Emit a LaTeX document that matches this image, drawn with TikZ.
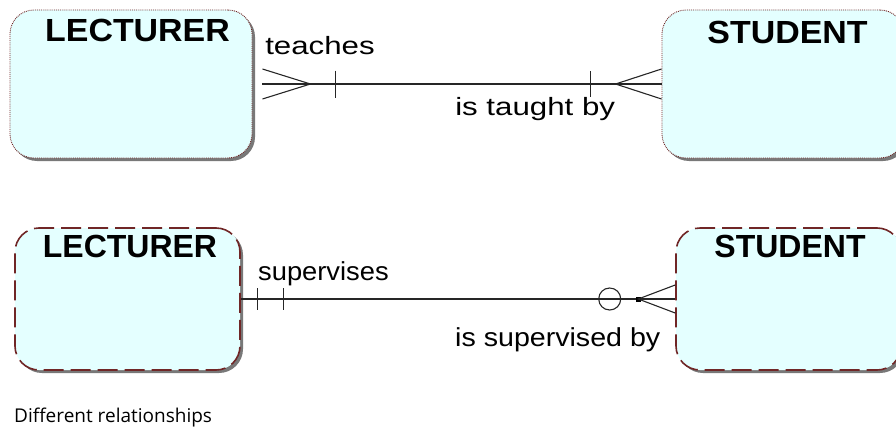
\documentclass[tikz,border=0pt]{standalone}
\usepackage{fontspec}
\setmainfont{Liberation Sans}
\newfontfamily\unterschriftfont{Open Sans}
\usetikzlibrary{shadows}

\definecolor{hellcyan}{RGB}{228,255,255}
\definecolor{randrot}{RGB}{112,38,38}
\definecolor{schatten}{RGB}{120,120,120}

\tikzset{
    entitaet/.style={rectangle, rounded corners=24pt, fill=hellcyan, inner sep=0pt,
        drop shadow={shadow xshift=3pt, shadow yshift=-3pt, fill=schatten, opacity=1}},
    entoben/.style={entitaet, draw=randrot, densely dotted, line width=0.9pt},
    entunten/.style={entitaet, draw=randrot, dash pattern=on 20pt off 7pt, line width=1.6pt},
    entname/.style={anchor=base, inner sep=0pt, font=\fontsize{32}{32}\selectfont\bfseries},
    rolle/.style={anchor=base west, inner sep=0pt, font=\fontsize{25}{25}\selectfont},
    linie/.style={line width=1.1pt, black!85}
}

\begin{document}
\begin{tikzpicture}[x=1pt, y=-1pt]

        \useasboundingbox (0,0) rectangle (896,428);

        % Entitaeten oben
        \node [entoben, minimum width=242pt, minimum height=148pt] (dozentoben) at (131,84) {};
        \node [entoben, minimum width=242pt, minimum height=148pt] (studentoben) at (783,84) {};
        \node [entname, xscale=1.06] (dozentobenname) at ([xshift=6.5pt, yshift=-32pt]dozentoben.north) {LECTURER};
        \node [entname, xscale=1.06] (studentobenname) at ([xshift=4.5pt, yshift=-34pt]studentoben.north) {STUDENT};

        % Entitaeten unten
        \node [entunten, minimum width=225pt, minimum height=142pt] (dozentunten) at (127.5,299) {};
        \node [entunten, minimum width=225pt, minimum height=142pt] (studentunten) at (788.5,299) {};
        \node [entname] (dozentuntenname) at ([xshift=2.5pt, yshift=-30pt]dozentunten.north) {LECTURER};
        \node [entname] (studentuntenname) at ([xshift=1.5pt, yshift=-30pt]studentunten.north) {STUDENT};

        % Beziehung oben: viele zu viele
        \coordinate (fussoben) at ([xshift=10pt]dozentoben.east);
        \draw [linie] (fussoben) -- (studentoben.west);
        \draw [linie] ([yshift=15pt]fussoben) -- ([xshift=48pt]fussoben) -- ([yshift=-15pt]fussoben);
        \draw [linie] ([xshift=73pt, yshift=13.5pt]fussoben) -- ([xshift=73pt, yshift=-13.5pt]fussoben);
        \draw [linie] ([yshift=15pt]studentoben.west) -- ([xshift=-46pt]studentoben.west) -- ([yshift=-15pt]studentoben.west);
        \draw [linie] ([xshift=-71pt, yshift=13pt]studentoben.west) -- ([xshift=-71pt, yshift=-13pt]studentoben.west);

        \node [rolle, xscale=1.25] (lehrt) at (265,55) {teaches};
        \node [rolle, xscale=1.25] (gelehrt) at (455,115) {is taught by};

        % Beziehung unten: genau eins zu kein oder viele
        \draw [linie] (dozentunten.east) -- (studentunten.west);
        \foreach \abstand in {17, 43}
            \draw [linie] ([xshift=\abstand pt, yshift=11pt]dozentunten.east) -- ([xshift=\abstand pt, yshift=-11pt]dozentunten.east);
        \draw [linie] ([xshift=-65.5pt]studentunten.west) circle [radius=11pt];
        \fill [black] ([xshift=-39pt, yshift=-2.5pt]studentunten.west) rectangle ([xshift=-34pt, yshift=2.5pt]studentunten.west);
        \draw [linie] ([yshift=14pt]studentunten.west) -- ([xshift=-37pt]studentunten.west) -- ([yshift=-14pt]studentunten.west);

        \node [rolle, font=\fontsize{26}{26}\selectfont, xscale=1.05] (betreut) at (258,280) {supervises};
        \node [rolle, font=\fontsize{26}{26}\selectfont, xscale=1.1] (betreutvon) at (455,346) {is supervised by};

        \node [anchor=base west, inner sep=0pt] (unterschrift) at (14,422) {\unterschriftfont\fontsize{19}{19}\selectfont Different relationships};

\end{tikzpicture}
\end{document}
